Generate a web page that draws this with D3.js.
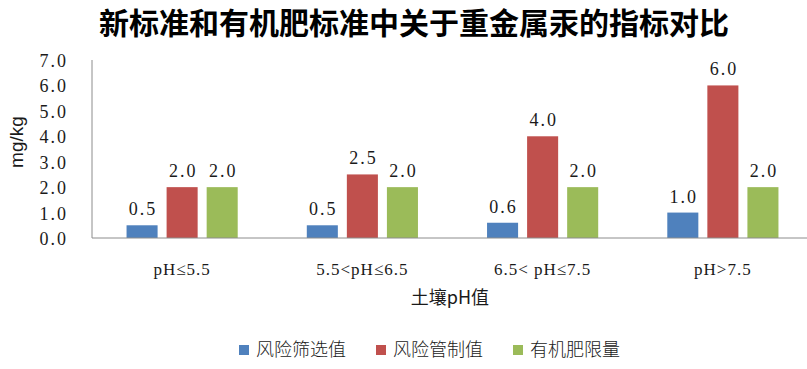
<!DOCTYPE html>
<html>
<head>
<meta charset="utf-8">
<script src="https://cdn.jsdelivr.net/npm/d3@7"></script>
<style>
  body { margin: 0; background: #fff; }
  svg text { fill: #1a1a1a; }
  .num { font-family: "Liberation Serif", "DejaVu Serif", serif; font-size: 18px; letter-spacing: 2px; }
</style>
</head>
<body>
<svg id="mychart" width="807" height="369"></svg>
<script>
// data
const categories = ["pH≤5.5", "5.5<pH≤6.5", "6.5< pH≤7.5", "pH>7.5"];
const seriesNames = ["风险筛选值", "风险管制值", "有机肥限量"];
const screening = [0.5, 0.5, 0.6, 1.0];
const control = [2.0, 2.5, 4.0, 6.0];
const fertilizer = [2.0, 2.0, 2.0, 2.0];
const yTicks = [0, 1, 2, 3, 4, 5, 6, 7];
const colors = ["#4f81bd", "#c0504d", "#9bbb59"];

const data = categories.map((c, i) => ({
  cat: c,
  vals: [screening[i], control[i], fertilizer[i]]
}));

const svg = d3.select("#mychart");
const fmt = d3.format(".1f");

const x0 = d3.scaleBand().domain(categories).range([92, 813]).padding(0);
const x1 = d3.scaleBand().domain(d3.range(3))
  .range([0, x0.bandwidth()])
  .paddingInner(0.225).paddingOuter(0.8625);
const y = d3.scaleLinear().domain([0, 7]).range([238, 60]);

// title
svg.append("text")
  .attr("x", 414).attr("y", 34)
  .attr("text-anchor", "middle")
  .style("font-family", "'Noto Sans CJK SC', sans-serif")
  .style("font-weight", "700")
  .style("font-size", "30px")
  .style("fill", "#000")
  .text("新标准和有机肥标准中关于重金属汞的指标对比");

// y axis tick labels (no tick marks)
svg.append("g").selectAll("text")
  .data(yTicks)
  .join("text")
  .attr("class", "num")
  .attr("x", 68)
  .attr("y", (d) => y(d) + 7)
  .attr("text-anchor", "end")
  .text((d) => fmt(d));

// axis lines
svg.append("line")
  .attr("x1", 92).attr("x2", 92)
  .attr("y1", y(7)).attr("y2", y(0))
  .attr("stroke", "#8c8c8c");

// bars
const groups = svg.append("g").selectAll("g")
  .data(data)
  .join("g")
  .attr("transform", (d) => `translate(${x0(d.cat)},0)`);

groups.selectAll("rect")
  .data((d) => d.vals)
  .join("rect")
  .attr("x", (d, i) => x1(i))
  .attr("width", x1.bandwidth())
  .attr("y", (d) => y(d))
  .attr("height", (d) => y(0) - y(d))
  .attr("fill", (d, i) => colors[i]);

groups.selectAll("text")
  .data((d) => d.vals)
  .join("text")
  .attr("class", "num")
  .attr("x", (d, i) => x1(i) + x1.bandwidth() / 2 + 1)
  .attr("y", (d) => y(d) - 10)
  .attr("text-anchor", "middle")
  .text((d) => fmt(d));

svg.append("line")
  .attr("x1", 92).attr("x2", 807)
  .attr("y1", y(0)).attr("y2", y(0))
  .attr("stroke", "#8c8c8c");

// category labels
svg.append("g").selectAll("text")
  .data(categories)
  .join("text")
  .attr("x", (d) => x0(d) + x0.bandwidth() / 2)
  .attr("y", 275)
  .attr("text-anchor", "middle")
  .style("font-family", "'Liberation Serif', serif")
  .style("font-size", "17px")
  .style("letter-spacing", "1px")
  .text((d) => d);

// axis titles
svg.append("text")
  .attr("x", 450).attr("y", 304)
  .attr("text-anchor", "middle")
  .style("font-family", "'Noto Sans CJK SC', sans-serif")
  .style("font-size", "18px")
  .text("土壤pH值");

svg.append("text")
  .attr("transform", "translate(23,142) rotate(-90)")
  .attr("text-anchor", "middle")
  .style("font-family", "'Liberation Sans', Arial, sans-serif")
  .style("font-size", "19px")
  .text("mg/kg");

// legend
const legendX = [239, 376, 513];
const legend = svg.append("g").selectAll("g")
  .data(seriesNames)
  .join("g")
  .attr("transform", (d, i) => `translate(${legendX[i]},345)`);
legend.append("rect")
  .attr("width", 10).attr("height", 10)
  .attr("fill", (d, i) => colors[i]);
legend.append("text")
  .attr("x", 17).attr("y", 11)
  .style("font-family", "'Noto Sans CJK SC', sans-serif")
  .style("font-size", "18px")
  .style("font-weight", "300")
  .text((d) => d);
</script>
</body>
</html>
